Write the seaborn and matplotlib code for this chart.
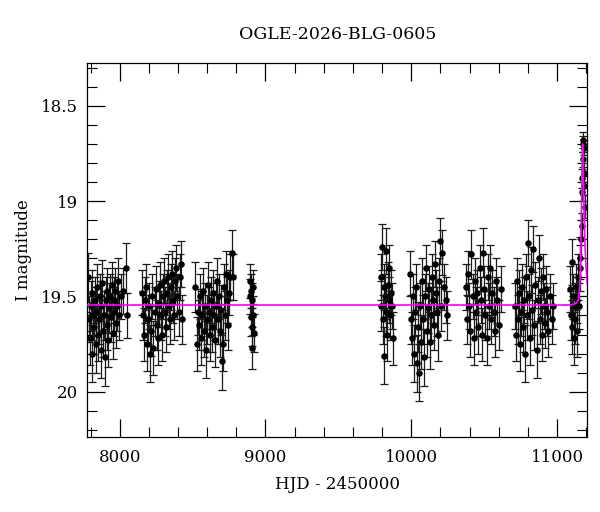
import matplotlib
matplotlib.use("Agg")
import matplotlib.pyplot as plt
import seaborn as sns
import numpy as np
import pandas as pd
from matplotlib.ticker import MultipleLocator

# ---------------- data ----------------
s1_t = [7785, 7790, 7796, 7802, 7808, 7813, 7818, 7824, 7830, 7835, 7841, 7847, 7852, 7858, 7863,
        7869, 7875, 7880, 7886, 7892, 7898, 7904, 7910, 7916, 7922, 7928, 7934, 7940, 7946, 7952,
        7958, 7964, 7970, 7976, 7982, 7990, 7998, 8008, 8020, 8040, 8052]
s1_m = [19.40, 19.62, 19.72, 19.55, 19.80, 19.48, 19.60, 19.66, 19.52, 19.75, 19.58, 19.45, 19.70, 19.62, 19.50,
        19.78, 19.55, 19.43, 19.68, 19.60, 19.82, 19.52, 19.47, 19.65, 19.73, 19.56, 19.50, 19.61, 19.44, 19.69,
        19.58, 19.52, 19.47, 19.64, 19.55, 19.42, 19.60, 19.50, 19.47, 19.35, 19.60]
s1_e = [0.13, 0.12, 0.14, 0.13, 0.15, 0.12, 0.13, 0.14, 0.12, 0.15, 0.13, 0.12, 0.14, 0.13, 0.12,
        0.15, 0.13, 0.12, 0.14, 0.13, 0.15, 0.12, 0.12, 0.13, 0.14, 0.13, 0.12, 0.13, 0.12, 0.14,
        0.13, 0.12, 0.12, 0.13, 0.13, 0.12, 0.13, 0.12, 0.12, 0.13, 0.12]

s2_t = [8150, 8158, 8166, 8174, 8182, 8190, 8197, 8204, 8211, 8218, 8225, 8232, 8239, 8246, 8253,
        8260, 8267, 8274, 8281, 8288, 8295, 8302, 8309, 8316, 8323, 8330, 8337, 8344, 8351, 8358,
        8365, 8372, 8380, 8388, 8396, 8404, 8412, 8420, 8428]
s2_m = [19.48, 19.60, 19.70, 19.52, 19.45, 19.75, 19.62, 19.55, 19.80, 19.68, 19.50, 19.77, 19.58, 19.46, 19.65,
        19.72, 19.54, 19.44, 19.60, 19.70, 19.50, 19.42, 19.58, 19.66, 19.48, 19.40, 19.55, 19.62, 19.45, 19.38,
        19.52, 19.60, 19.42, 19.35, 19.50, 19.58, 19.40, 19.33, 19.62]
s2_e = [0.12, 0.13, 0.14, 0.12, 0.12, 0.14, 0.13, 0.12, 0.15, 0.13, 0.12, 0.14, 0.13, 0.12, 0.13,
        0.14, 0.12, 0.12, 0.13, 0.14, 0.12, 0.12, 0.13, 0.13, 0.12, 0.12, 0.12, 0.13, 0.12, 0.12,
        0.12, 0.13, 0.12, 0.12, 0.12, 0.13, 0.12, 0.12, 0.13]

s3_t = [8520, 8527, 8534, 8541, 8548, 8555, 8562, 8569, 8576, 8583, 8590, 8597, 8604, 8611, 8618,
        8625, 8632, 8639, 8646, 8653, 8660, 8667, 8674, 8681, 8688, 8695, 8702, 8709, 8716, 8723,
        8730, 8737, 8744, 8751, 8760, 8770, 8778]
s3_m = [19.45, 19.75, 19.58, 19.65, 19.50, 19.72, 19.60, 19.47, 19.68, 19.55, 19.78, 19.62, 19.44, 19.58, 19.70,
        19.52, 19.66, 19.48, 19.60, 19.73, 19.55, 19.42, 19.62, 19.50, 19.68, 19.57, 19.84, 19.75, 19.45, 19.60,
        19.38, 19.52, 19.65, 19.48, 19.40, 19.27, 19.40]
s3_e = [0.13, 0.14, 0.12, 0.13, 0.12, 0.14, 0.13, 0.12, 0.14, 0.12, 0.15, 0.13, 0.12, 0.13, 0.14,
        0.12, 0.13, 0.12, 0.13, 0.14, 0.12, 0.12, 0.13, 0.12, 0.14, 0.13, 0.15, 0.14, 0.12, 0.13,
        0.12, 0.12, 0.13, 0.12, 0.12, 0.12, 0.12]

s4_t = [8893, 8896, 8899, 8902, 8905, 8908, 8911, 8914, 8917, 8920]
s4_m = [19.50, 19.42, 19.61, 19.47, 19.77, 19.52, 19.66, 19.45, 19.60, 19.69]
s4_e = [0.09, 0.09, 0.10, 0.09, 0.11, 0.09, 0.10, 0.09, 0.10, 0.10]

s5_t = [9790, 9795, 9800, 9805, 9810, 9815, 9820, 9825, 9830, 9835, 9840, 9845, 9850, 9855, 9860, 9866, 9872]
s5_m = [19.40, 19.55, 19.24, 19.62, 19.45, 19.81, 19.50, 19.26, 19.58, 19.70, 19.44, 19.52, 19.35, 19.60,
        19.48, 19.55, 19.72]
s5_e = [0.12, 0.13, 0.12, 0.13, 0.12, 0.15, 0.12, 0.12, 0.13, 0.14, 0.12, 0.12, 0.12, 0.13, 0.12, 0.12, 0.14]

s6_t = [9988, 9995, 10002, 10009, 10016, 10023, 10030, 10037, 10044, 10051, 10058, 10065, 10072, 10079,
        10086, 10093, 10100, 10107, 10114, 10121, 10128, 10135, 10142, 10149, 10156, 10163, 10170, 10177,
        10184, 10191, 10198, 10205, 10212, 10222, 10235, 10248]
s6_m = [19.38, 19.62, 19.72, 19.50, 19.80, 19.58, 19.45, 19.85, 19.66, 19.90, 19.55, 19.74, 19.42, 19.62,
        19.82, 19.50, 19.35, 19.68, 19.56, 19.46, 19.74, 19.60, 19.40, 19.52, 19.65, 19.33, 19.48, 19.58,
        19.70, 19.42, 19.21, 19.55, 19.27, 19.45, 19.52, 19.60]
s6_e = [0.12, 0.13, 0.14, 0.12, 0.15, 0.13, 0.12, 0.15, 0.13, 0.15, 0.12, 0.14, 0.12, 0.13,
        0.15, 0.12, 0.12, 0.14, 0.13, 0.12, 0.14, 0.13, 0.12, 0.12, 0.13, 0.12, 0.12, 0.13,
        0.14, 0.12, 0.12, 0.13, 0.12, 0.12, 0.12, 0.13]

s7_t = [10372, 10380, 10388, 10396, 10404, 10412, 10420, 10428, 10436, 10444, 10452, 10460, 10468, 10476,
        10484, 10492, 10500, 10508, 10516, 10524, 10532, 10540, 10548, 10556, 10564, 10572, 10580, 10590,
        10600, 10612]
s7_m = [19.45, 19.62, 19.38, 19.55, 19.68, 19.28, 19.50, 19.72, 19.42, 19.58, 19.48, 19.66, 19.35, 19.52,
        19.70, 19.27, 19.46, 19.60, 19.72, 19.40, 19.55, 19.35, 19.62, 19.48, 19.58, 19.68, 19.42, 19.52,
        19.65, 19.46]
s7_e = [0.12, 0.13, 0.12, 0.12, 0.14, 0.13, 0.12, 0.14, 0.12, 0.13, 0.12, 0.14, 0.12, 0.12,
        0.14, 0.13, 0.12, 0.13, 0.14, 0.12, 0.12, 0.12, 0.13, 0.12, 0.13, 0.14, 0.12, 0.12,
        0.13, 0.12]

s8_t = [10712, 10719, 10726, 10733, 10740, 10747, 10754, 10761, 10768, 10775, 10782, 10789, 10796, 10803,
        10810, 10817, 10824, 10831, 10838, 10845, 10852, 10859, 10866, 10873, 10880, 10887, 10894, 10901,
        10908, 10915, 10922, 10930, 10940, 10950, 10962, 10972]
s8_m = [19.55, 19.70, 19.42, 19.62, 19.48, 19.75, 19.58, 19.45, 19.66, 19.52, 19.80, 19.40, 19.60, 19.22,
        19.50, 19.72, 19.36, 19.57, 19.25, 19.65, 19.44, 19.78, 19.52, 19.30, 19.62, 19.47, 19.70, 19.40,
        19.55, 19.64, 19.46, 19.58, 19.68, 19.50, 19.62, 19.55]
s8_e = [0.12, 0.14, 0.12, 0.13, 0.12, 0.14, 0.13, 0.12, 0.13, 0.12, 0.15, 0.12, 0.13, 0.12,
        0.12, 0.14, 0.12, 0.13, 0.12, 0.13, 0.12, 0.15, 0.12, 0.12, 0.13, 0.12, 0.14, 0.12,
        0.12, 0.13, 0.12, 0.13, 0.14, 0.12, 0.13, 0.12]

s9_t = [11090, 11095, 11100, 11105, 11110, 11115, 11120, 11125, 11130, 11135, 11140, 11145, 11150, 11155,
        11160, 11165]
s9_m = [19.46, 19.60, 19.32, 19.66, 19.50, 19.72, 19.55, 19.62, 19.45, 19.68, 19.52, 19.40, 19.55, 19.35,
        19.30, 19.20]
s9_e = [0.12, 0.13, 0.12, 0.14, 0.12, 0.14, 0.12, 0.13, 0.12, 0.14, 0.12, 0.12, 0.12, 0.12, 0.11, 0.10]

peak_t = [11168, 11171, 11173, 11176, 11178, 11180, 11182, 11184, 11186, 11189]
peak_m = [19.13, 18.95, 18.88, 18.78, 18.70, 18.68, 18.72, 18.85, 18.92, 19.03]
peak_e = [0.07, 0.05, 0.05, 0.04, 0.04, 0.04, 0.04, 0.05, 0.05, 0.06]

model_t = [7778, 11100, 11130, 11145, 11152, 11158, 11163, 11167, 11170, 11173, 11175, 11177,
           11180, 11184, 11190, 11197, 11208]
model_m = [19.545, 19.545, 19.535, 19.52, 19.48, 19.40, 19.25, 19.05, 18.88, 18.74, 18.70, 18.73,
           18.85, 19.02, 19.20, 19.33, 19.44]

title = "OGLE-2026-BLG-0605"
xlabel = "HJD - 2450000"
ylabel = "I magnitude"

# ---------------- build table ----------------
times = s1_t + s2_t + s3_t + s4_t + s5_t + s6_t + s7_t + s8_t + s9_t + peak_t
mags = s1_m + s2_m + s3_m + s4_m + s5_m + s6_m + s7_m + s8_m + s9_m + peak_m
errs = s1_e + s2_e + s3_e + s4_e + s5_e + s6_e + s7_e + s8_e + s9_e + peak_e
df = pd.DataFrame({"t": times, "m": mags, "e": errs})
model = pd.DataFrame({"t": model_t, "m": model_m})

# ---------------- plot ----------------
sns.set_style("ticks")
plt.rcParams["font.family"] = ["DejaVu Serif"]
plt.rcParams["mathtext.fontset"] = "dejavuserif"
plt.rcParams["text.color"] = "black"
plt.rcParams["axes.labelcolor"] = "black"
plt.rcParams["xtick.color"] = "black"
plt.rcParams["ytick.color"] = "black"

fig = plt.figure(figsize=(6.0, 5.12), dpi=100)
ax = fig.add_axes([0.1455, 0.147, 0.979 - 0.1455, 0.8775 - 0.147])

ax.errorbar(df["t"], df["m"], yerr=df["e"], fmt="none", ecolor="#1a1a1a",
            elinewidth=0.9, capsize=2.6, capthick=0.9, zorder=2)
sns.scatterplot(data=df, x="t", y="m", ax=ax, color="black", s=22,
                edgecolor="black", linewidth=0, zorder=3, legend=False)
sns.lineplot(data=model, x="t", y="m", ax=ax, color="#ff00ff", linewidth=1.2,
             zorder=4, sort=False, estimator=None)

ax.set_xlim(7778, 11208)
ax.set_ylim(20.236, 18.274)

ax.xaxis.set_major_locator(MultipleLocator(1000))
ax.xaxis.set_minor_locator(MultipleLocator(200))
ax.yaxis.set_major_locator(MultipleLocator(0.5))
ax.yaxis.set_minor_locator(MultipleLocator(0.1))
ax.set_yticks([18.5, 19.0, 19.5, 20.0])
ax.set_yticklabels(["18.5", "19", "19.5", "20"])

ax.tick_params(which="both", direction="in", top=True, right=True, colors="black")
ax.tick_params(which="major", length=13, width=0.9, labelsize=12, pad=9)
ax.tick_params(which="minor", length=7, width=0.8)
ax.tick_params(axis="y", which="major", pad=7)

for sp in ax.spines.values():
    sp.set_linewidth(0.9)
    sp.set_color("black")

ax.set_xlabel(xlabel, fontsize=12, labelpad=7, color="black")
ax.set_ylabel(ylabel, fontsize=12, labelpad=6, color="black")
ax.set_title(title, fontsize=12.5, pad=17, color="black")

fig.savefig("out.png", dpi=100)
